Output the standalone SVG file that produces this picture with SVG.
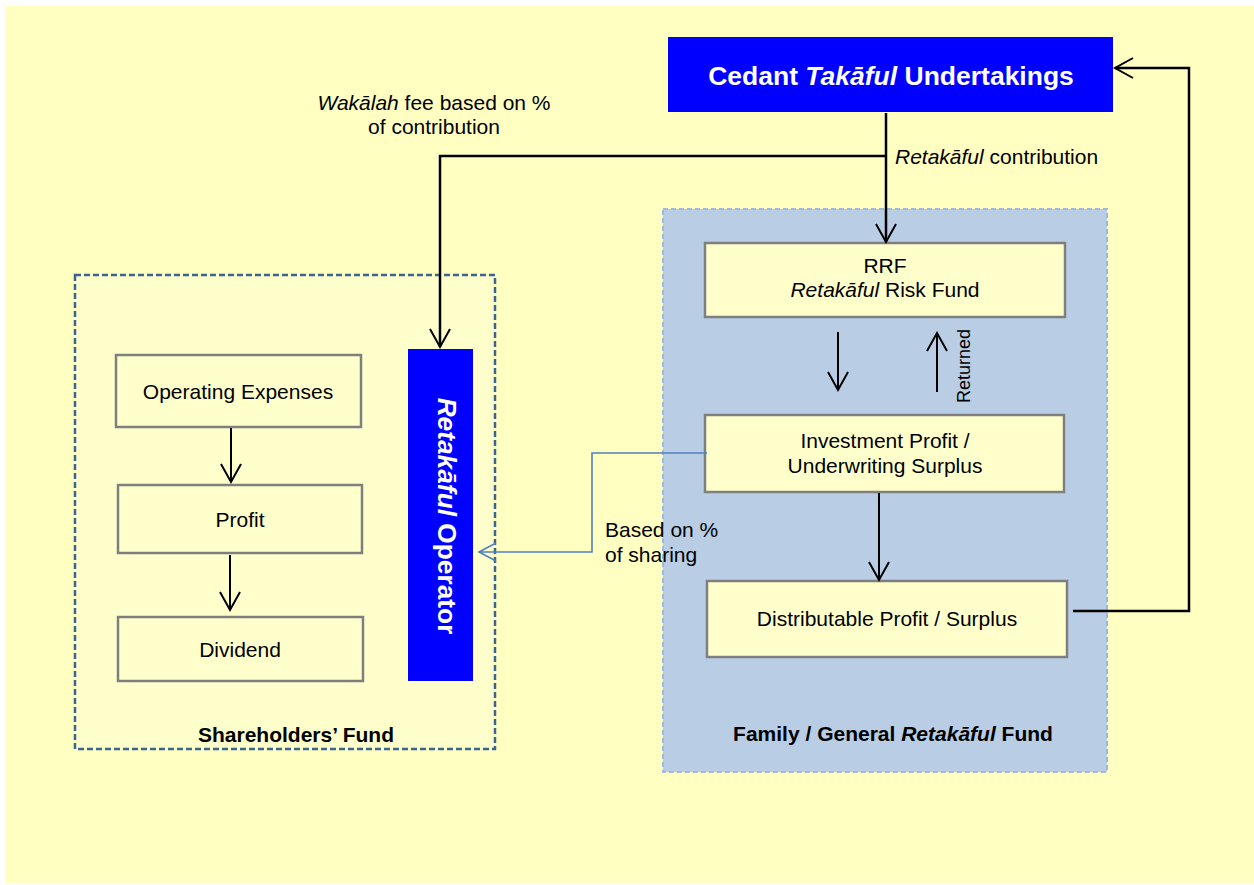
<svg xmlns="http://www.w3.org/2000/svg" width="1254" height="885" viewBox="0 0 1254 885">
<style>
text{font-family:"Liberation Sans",Arial,sans-serif;fill:#000}
.t{font-size:21px}
.b{font-weight:bold}
.i{font-style:italic}
.w{fill:#fff}
.node{fill:#FFFFCC;stroke:#7F7F7F;stroke-width:2.5}
.blue{fill:#0000FF}
.c{fill:none;stroke:#000;stroke-width:2.5}
.c2{fill:none;stroke:#000;stroke-width:2}
.cb{fill:none;stroke:#4F81BD;stroke-width:1.6}
</style>
<defs>
<marker id="a" markerUnits="userSpaceOnUse" markerWidth="26" markerHeight="26" viewBox="-21 -13 26 26" refX="0" refY="0" orient="auto"><path d="M-18,-10 L0,0 L-18,10" fill="none" stroke="#000" stroke-width="2"/></marker>
<marker id="ab" markerUnits="userSpaceOnUse" markerWidth="26" markerHeight="26" viewBox="-21 -13 26 26" refX="0" refY="0" orient="auto"><path d="M-17,-9 L0,0 L-17,9" fill="none" stroke="#4F81BD" stroke-width="1.6"/></marker>
</defs>
<rect x="5" y="6" width="1249" height="877" fill="#FFFFC1"/>

<g id="shareholders-fund">
<rect x="75" y="275" width="420" height="474" fill="#FFFFCC" stroke="#3B6491" stroke-width="2.5" stroke-dasharray="6,3"/>
<text class="t b" x="296" y="742" text-anchor="middle">Shareholders’ Fund</text>
</g>
<g id="retakaful-fund">
<rect x="663" y="209" width="444" height="563" fill="#B9CDE5" stroke="#9DB9E0" stroke-width="2" stroke-dasharray="5,3"/>
<text class="t b" x="893" y="741" text-anchor="middle">Family / General <tspan class="i">Retakāful</tspan> Fund</text>
</g>

<g id="cedant">
<rect class="blue" x="668" y="37" width="445" height="75"/>
<text class="w b" font-size="26.5" x="891" y="85" text-anchor="middle">Cedant  <tspan class="i">Takāful</tspan> Undertakings</text>
</g>
<g id="operator">
<rect class="blue" x="408" y="349" width="65" height="332"/>
<text class="w b" font-size="26.3" transform="translate(438,516) rotate(90)" text-anchor="middle"><tspan class="i">Retakāful</tspan> Operator</text>
</g>
<g id="opex">
<rect class="node" x="116" y="355" width="245" height="72"/>
<text class="t" x="238" y="399" text-anchor="middle">Operating Expenses</text>
</g>
<g id="profit">
<rect class="node" x="118" y="485" width="244" height="68"/>
<text class="t" x="240" y="527" text-anchor="middle">Profit</text>
</g>
<g id="dividend">
<rect class="node" x="118" y="617" width="245" height="64"/>
<text class="t" x="240" y="657" text-anchor="middle">Dividend</text>
</g>
<g id="rrf">
<rect class="node" x="705" y="243" width="360" height="74"/>
<text class="t" x="885" y="273" text-anchor="middle">RRF</text>
<text class="t" x="885" y="297" text-anchor="middle"><tspan class="i">Retakāful</tspan> Risk Fund</text>
</g>
<g id="investment">
<rect class="node" x="705" y="415" width="359" height="77"/>
<text class="t" x="885" y="448" text-anchor="middle">Investment Profit /</text>
<text class="t" x="885" y="473" text-anchor="middle">Underwriting Surplus</text>
</g>
<g id="distributable">
<rect class="node" x="707" y="581" width="360" height="76"/>
<text class="t" x="887" y="626" text-anchor="middle">Distributable Profit / Surplus</text>
</g>

<g id="connectors">
<path class="c" d="M886,113 V242" marker-end="url(#a)"/>
<path class="c" d="M886,156 H440 V347" marker-end="url(#a)"/>
<path class="c" d="M1073,611 H1189 V68 H1115" marker-end="url(#a)"/>
<path class="c2" d="M838,332 V390" marker-end="url(#a)"/>
<path class="c2" d="M937,392 V333" marker-end="url(#a)"/>
<path class="c2" d="M879,493 V580" marker-end="url(#a)"/>
<path class="c2" d="M231,428 V482" marker-end="url(#a)"/>
<path class="c2" d="M230,555 V610" marker-end="url(#a)"/>
<path class="cb" d="M707,453 H592 V552 H479" marker-end="url(#ab)"/>
<text class="t" x="434" y="110" text-anchor="middle"><tspan class="i">Wakālah</tspan> fee based on %</text>
<text class="t" x="434" y="134" text-anchor="middle">of contribution</text>
<text class="t" x="895" y="164"><tspan class="i">Retakāful</tspan> contribution</text>
<text font-size="18" transform="translate(970,366) rotate(-90)" text-anchor="middle">Returned</text>
<text class="t" x="605" y="537">Based on %</text>
<text class="t" x="605" y="562">of sharing</text>
</g>
</svg>
